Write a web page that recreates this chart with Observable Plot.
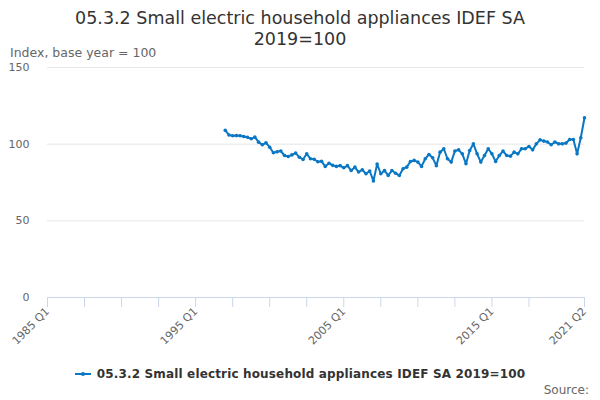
<!DOCTYPE html>
<html><head><meta charset="utf-8">
<script src="https://cdn.jsdelivr.net/npm/d3@7"></script>
<script src="https://cdn.jsdelivr.net/npm/@observablehq/plot@0.6"></script>
<style>
body{margin:0;font-family:"DejaVu Sans",sans-serif;background:#fff}
#wrap{position:relative;width:600px;height:400px;overflow:hidden;background:#fff}
#title{position:absolute;top:8px;left:0;width:600px;text-align:center;font-size:17.5px;line-height:21px;color:#333}
#subtitle{position:absolute;left:10px;top:45px;font-size:12.5px;line-height:15px;color:#666}
#chart{position:absolute;left:0;top:60px}
#legend{position:absolute;top:367px;left:0;width:600px;text-align:center;font-size:12px;line-height:14px;font-weight:bold;color:#333;letter-spacing:0.15px}
#legend svg{vertical-align:-1px;margin-right:6px}
#source{position:absolute;right:11px;top:383px;font-size:12px;line-height:14px;color:#666}
</style></head>
<body>
<div id="wrap">
  <div id="chart"></div>
  <div id="title">05.3.2 Small electric household appliances IDEF SA<br>2019=100</div>
  <div id="subtitle">Index, base year = 100</div>
  <div id="legend"></div>
  <div id="source">Source:</div>
</div>
<script>
const seriesName = "05.3.2 Small electric household appliances IDEF SA 2019=100";
const axisStartYear = 1985;
const axisEnd = "2021 Q2";
const dataStart = "1997 Q1";
const values = [
  109, 106, 105.5, 105.6,
  105.5, 105, 104.5, 103.5,
  104.6, 101.3, 99.6, 100.9,
  98, 94.4, 95, 95.5,
  92.6, 92, 93, 94.2,
  91.5, 90, 93.7, 90.5,
  90.2, 88.5, 88.8, 85.5,
  87.6, 86.2, 85.5, 86,
  84.6, 86, 82.8, 85,
  81.8, 83.3, 80.7, 82.5,
  76, 87, 80.7, 82.8,
  79.6, 82.8, 81, 79.6,
  84, 85, 88.7, 89.4,
  88.3, 85.5, 90.5, 93.3,
  91.1, 86, 94.8, 97,
  90.5, 88.3, 95.5, 96.3,
  93.7, 87.2, 95.9, 100.2,
  93.7, 88.3, 92.6, 97,
  93.7, 88.7, 92.6, 95.5,
  92.6, 92.2, 94.8, 93.7,
  97, 97, 98.5, 96.3,
  100.2, 102.8, 102, 101.4,
  99.6, 101.4, 100.2, 100.2,
  100.7, 103, 103, 93.7,
  104.2, 117.2
];
const yTicks = [0, 50, 100, 150];
const xTickLabels = ["1985 Q1", "1995 Q1", "2005 Q1", "2015 Q1", "2021 Q2"];
const xTickMarks = ["1985 Q1","1987 Q3","1990 Q1","1992 Q3","1995 Q1","1997 Q3","2000 Q1","2002 Q3","2005 Q1","2007 Q3","2010 Q1","2012 Q3","2015 Q1","2017 Q3","2021 Q2"];

// category list for the axis
const quarters = [];
for (let y = axisStartYear; ; y++) {
  let done = false;
  for (let q = 1; q <= 4; q++) {
    const lab = y + " Q" + q;
    quarters.push(lab);
    if (lab === axisEnd) { done = true; break; }
  }
  if (done) break;
}
const startIdx = quarters.indexOf(dataStart);
const data = values.map((v, i) => ({q: quarters[startIdx + i], v}));

const blue = "#0a77c4";

const chart = Plot.plot({
  width: 600,
  height: 300,
  marginLeft: 47,
  marginRight: 16,
  marginTop: 7,
  marginBottom: 63,
  style: {fontFamily: "DejaVu Sans", fontSize: "11px", background: "transparent", overflow: "visible"},
  x: {type: "point", domain: quarters, padding: 0},
  y: {domain: [0, 150]},
  marks: [
    Plot.gridY([50, 100, 150], {stroke: "#e6e6e6", strokeOpacity: 1}),
    Plot.ruleY([0], {stroke: "#ccd6eb"}),
    Plot.axisY({ticks: yTicks, tickSize: 0, tickPadding: 18, fill: "#666", label: null}),
    Plot.axisX({ticks: xTickMarks, tickSize: 10, stroke: "#ccd6eb", strokeOpacity: 1, fill: "#666", tickRotate: -45, tickPadding: 2,
      tickFormat: d => xTickLabels.includes(d) ? d : "", label: null}),
    Plot.line(data, {x: "q", y: "v", stroke: blue, strokeWidth: 2}),
    Plot.dot(data, {x: "q", y: "v", r: 1.8, fill: blue})
  ]
});
document.getElementById("chart").appendChild(chart);

document.getElementById("legend").innerHTML =
  `<svg width="16" height="10"><line x1="0" y1="5" x2="16" y2="5" stroke="${blue}" stroke-width="2"/><circle cx="8" cy="5" r="2" fill="${blue}"/></svg>` + seriesName;
</script>
</body></html>
